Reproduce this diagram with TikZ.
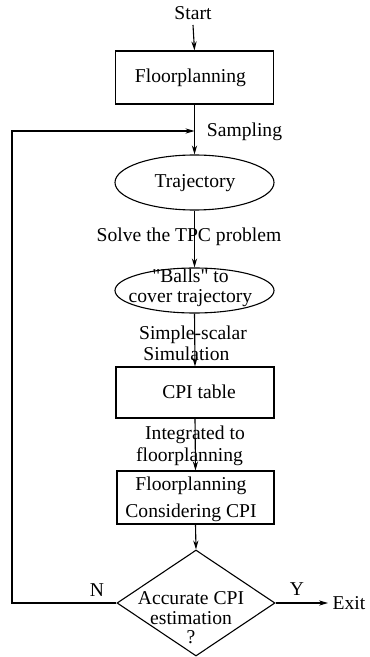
\documentclass[tikz,border=0pt]{standalone}
\usepackage{fontspec}
\setmainfont{Liberation Serif}[Ligatures=TeXOff]
\usetikzlibrary{shapes.geometric,arrows.meta}
\begin{document}
\begin{tikzpicture}[x=0.5pt,y=-0.5pt,
  every node/.style={font=\fontsize{9.8}{9.8}\selectfont, inner sep=0pt},
  line/.style={line width=0.55pt},
  arr/.style={line width=0.55pt,-{Stealth[length=4.5pt,width=2.6pt]}},
  pbox/.style={draw,line width=0.55pt,rectangle,minimum width=79pt,minimum height=26.5pt},
  pell/.style={draw,line width=0.55pt,ellipse,minimum width=79.5pt},
  lbl/.style={align=center}]
\useasboundingbox (0,0) rectangle (369,657);
% nodes
\node (start) at (193,13) {Start};
\node[pbox] (fp1) at (194.5,77.5) {};
\node (fp1t) at (190.5,78) {Floorplanning};
\node[pell,minimum height=27.5pt] (traj) at (194.5,182.5) {};
\node (trajt) at (195,183) {Trajectory};
\node[pell,minimum height=22.5pt] (balls) at (194.5,290.5) {};
\node[lbl] (ballst) at (190.5,288) {"Balls" to\\cover trajectory};
\node[pbox,minimum height=25.5pt] (cpi) at (195,392.5) {};
\node (cpit) at (199,392) {CPI table};
\node[pbox,minimum width=78.5pt] (fp2) at (195.5,497.5) {};
\node[lbl,font=\fontsize{9.8}{13.5}\selectfont] (fp2t) at (191,499) {Floorplanning\\Considering CPI};
\node[draw,line width=0.55pt,diamond,minimum width=79pt,minimum height=53pt] (dec) at (196,603) {};
\node[lbl] (dect) at (191,618) {Accurate CPI\\estimation\\?};
\node (exit) at (349,603) {Exit};
% labels
\node (samp) at (244.5,132) {Sampling};
\node (tpc) at (189,237) {Solve the TPC problem};
\node (ss1) at (193,335) {Simple-scalar};
\node (ss2) at (186.5,353.5) {Simulation};
\node (int1) at (195,435) {Integrated to};
\node (int2) at (189.5,457) {floorplanning};
\node (nlab) at (97,590) {N};
\node (ylab) at (297,589) {Y};
\coordinate (join) at (194.5,131);
\coordinate (lt) at (12,131);
\coordinate (lb) at (12,603);
\coordinate (exitarr) at (328,603);
% connectors
\draw[arr] (193,25) -- (fp1.north);
\draw[arr] (fp1.south) -- (traj.north);
\draw[arr] (traj.south) -- (balls.north);
\draw[arr] (balls.south) -- (cpi.north);
\draw[arr] (cpi.south) -- (fp2.north);
\draw[arr] (fp2.south) -- (dec.north);
\draw[arr] (dec.east) -- (exitarr);
\draw[arr] (dec.west) -- (lb) -- (lt) -- (join);
\end{tikzpicture}
\end{document}
